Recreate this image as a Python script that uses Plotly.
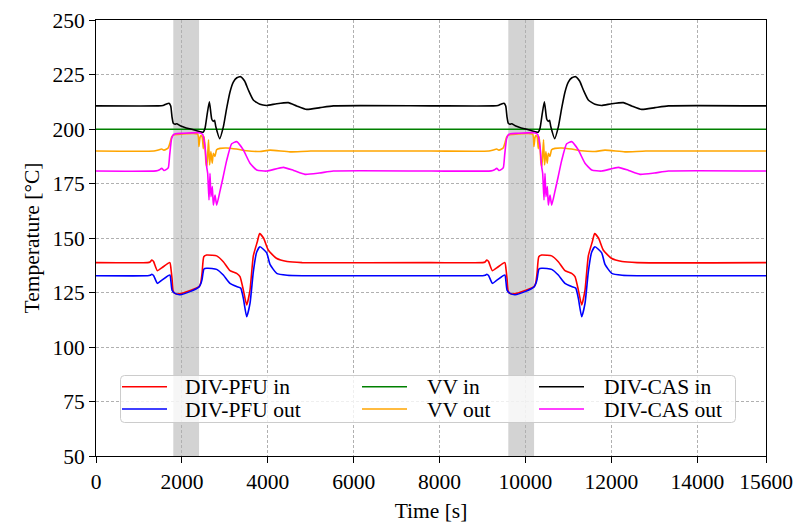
import plotly.graph_objects as go

# ---------------- data (one operating cycle, repeated) ----------------
PERIOD = 7800
T_END = 15600
shade_start = [1800, 9600]
shade_end = [2400, 10200]

x_ticks = [0, 2000, 4000, 6000, 8000, 10000, 12000, 14000, 15600]
y_ticks = [50, 75, 100, 125, 150, 175, 200, 225, 250]

t_pfu_in = [0, 1200, 1260, 1300, 1340, 1430, 1530, 1720, 1745, 1770, 1800, 1870, 2000, 2190, 2400,
            2440, 2470, 2510, 2576, 2700, 2809, 2964, 3120, 3275, 3353, 3431, 3508, 3586, 3663,
            3756, 3810, 3900, 4010, 4200, 4450, 4800, 7800]
v_pfu_in = [138.7, 138.7, 139.0, 139.9, 139.2, 135.0, 136.3, 138.7, 136.0, 131.5, 125.4, 124.3, 124.6,
            125.9, 127.7, 129.5, 134.0, 141.4, 142.2, 142.1, 141.8, 139.1, 135.0, 133.8, 132.3, 126.1,
            119.3, 126.1, 141.8, 148.3, 152.0, 150.0, 144.5, 140.7, 139.2, 138.7, 138.7]

t_pfu_out = [0, 1200, 1260, 1300, 1340, 1430, 1530, 1720, 1745, 1770, 1840, 1956, 2190, 2400, 2440,
             2470, 2514, 2576, 2700, 2809, 2964, 3120, 3275, 3370, 3431, 3508, 3586, 3663, 3740,
             3818, 3974, 4051, 4207, 4450, 4800, 7800]
v_pfu_out = [132.7, 132.7, 132.9, 133.4, 132.8, 129.2, 130.6, 133.0, 130.0, 126.1, 124.6, 124.0, 125.4,
             127.6, 129.0, 131.0, 135.8, 136.1, 136.0, 135.6, 133.0, 129.2, 127.7, 127.0, 122.3, 113.9,
             120.0, 134.5, 143.5, 146.0, 143.2, 137.9, 133.8, 132.9, 132.7, 132.7]

t_vv_in = [0, 7800]
v_vv_in = [199.9, 199.9]

t_vv_out = [0, 1350, 1451, 1529, 1580, 1645, 1684, 1720, 1760, 1800, 1900, 2366, 2397, 2420, 2440,
            2470, 2499, 2520, 2545, 2560, 2582, 2620, 2644, 2675, 2706, 2732, 2770, 2808, 2887,
            3041, 3274, 3507, 3817, 4051, 4517, 5000, 7800]
v_vv_out = [189.9, 189.9, 190.4, 190.8, 190.3, 190.8, 191.4, 193.5, 196.3, 197.2, 197.5, 197.6, 192.0,
            196.0, 197.0, 196.5, 191.0, 196.5, 190.0, 184.3, 182.8, 195.0, 183.5, 189.6, 184.3, 188.9,
            187.4, 190.5, 191.1, 191.3, 190.8, 190.0, 189.7, 190.3, 189.5, 189.9, 189.9]

t_cas_in = [0, 1450, 1560, 1640, 1700, 1740, 1770, 1800, 1840, 1880, 1960, 2100, 2250, 2406, 2500,
            2540, 2590, 2640, 2694, 2732, 2760, 2790, 2880, 2965, 3042, 3120, 3197, 3280, 3369,
            3460, 3547, 3663, 3818, 3974, 4207, 4478, 4672, 4905, 5215, 5526, 7800]
v_cas_in = [210.6, 210.6, 210.8, 211.5, 211.8, 210.5, 205.5, 202.6, 202.2, 202.4, 201.5, 200.5, 199.8,
            198.8, 198.6, 200.5, 207.0, 212.5, 204.6, 203.5, 204.0, 201.0, 195.6, 201.0, 209.5, 217.0,
            221.5, 223.5, 224.0, 222.0, 217.9, 213.3, 211.3, 210.8, 211.6, 212.1, 210.6, 209.0, 209.8,
            210.6, 210.6]

t_cas_out = [0, 1400, 1480, 1530, 1580, 1640, 1684, 1715, 1760, 1800, 1850, 2000, 2400, 2484, 2538,
             2576, 2600, 2631, 2654, 2677, 2708, 2732, 2771, 2810, 2887, 2960, 3042, 3159, 3275,
             3430, 3586, 3741, 3974, 4362, 4600, 4866, 5200, 5526, 7800]
v_cas_out = [180.7, 180.8, 181.3, 182.0, 181.0, 181.5, 182.3, 188.0, 195.5, 197.3, 197.8, 198.0, 198.3,
             197.5, 191.9, 182.7, 179.7, 167.4, 179.7, 169.0, 173.6, 165.1, 169.7, 165.1, 171.5, 178.0,
             185.5, 193.2, 194.2, 190.4, 184.3, 181.2, 180.7, 182.4, 181.0, 179.2, 179.8, 180.7, 180.7]


def two_cycles(t, v):
    tt = list(t) + [ti + PERIOD for ti in t[1:]]
    vv = list(v) + list(v[1:])
    return tt, vv


series = [
    ("DIV-PFU in", t_pfu_in, v_pfu_in, "#ff0000"),
    ("DIV-PFU out", t_pfu_out, v_pfu_out, "#0000ff"),
    ("VV in", t_vv_in, v_vv_in, "#008000"),
    ("VV out", t_vv_out, v_vv_out, "#ffa500"),
    ("DIV-CAS in", t_cas_in, v_cas_in, "#000000"),
    ("DIV-CAS out", t_cas_out, v_cas_out, "#ff00ff"),
]

FONT = "Liberation Serif, Times New Roman, serif"
FS = 21.5

W, H = 795, 523
L, R, T, B = 96, 29, 20, 67
PW, PH = W - L - R, H - T - B


def px(xp):  # page pixel -> paper
    return (xp - L) / PW


def py(yp):
    return (H - B - yp) / PH


fig = go.Figure()
for name, t, v, col in series:
    tt, vv = two_cycles(t, v)
    fig.add_trace(go.Scatter(x=tt, y=vv, mode="lines", name=name, showlegend=False,
                             line=dict(color=col, width=1.6, shape="spline", smoothing=0.5)))

shapes = []
for s0, s1 in zip(shade_start, shade_end):
    shapes.append(dict(type="rect", xref="x", yref="paper", x0=s0, x1=s1, y0=0, y1=1,
                       fillcolor="#d3d3d3", line=dict(width=0), layer="below"))

# legend frame (rounded)
bx0, bx1, by0, by1 = 120.5, 735.5, 375.5, 422.5
rx, ry = 4 / PW, 4 / PH
X0, X1, Y0, Y1 = px(bx0), px(bx1), py(by1), py(by0)
path = (f"M{X0+rx},{Y0} L{X1-rx},{Y0} Q{X1},{Y0} {X1},{Y0+ry} L{X1},{Y1-ry} Q{X1},{Y1} {X1-rx},{Y1} "
        f"L{X0+rx},{Y1} Q{X0},{Y1} {X0},{Y1-ry} L{X0},{Y0+ry} Q{X0},{Y0} {X0+rx},{Y0} Z")
shapes.append(dict(type="path", xref="paper", yref="paper", path=path,
                   fillcolor="rgba(255,255,255,0.8)", line=dict(color="#cccccc", width=1), layer="above"))

annotations = []
cols = [(122, 167, 183), (362, 407, 425), (539, 584, 602)]
rows = [386.7, 409.0]
for i, (name, t, v, col) in enumerate(series):
    c = cols[i // 2]
    r = rows[i % 2]
    shapes.append(dict(type="line", xref="paper", yref="paper", x0=px(c[0]), x1=px(c[1]),
                       y0=py(r), y1=py(r), line=dict(color=col, width=1.6), layer="above"))
    annotations.append(dict(x=px(c[2]), y=py(r + 0.5), xref="paper", yref="paper", text=name,
                            showarrow=False, xanchor="left", yanchor="middle",
                            font=dict(family=FONT, size=FS, color="black")))

axis_common = dict(showline=True, linecolor="black", linewidth=1, mirror=True,
                   ticks="outside", ticklen=6, tickwidth=1, tickcolor="black",
                   showgrid=True, gridcolor="#b0b0b0", gridwidth=0.7, griddash="3px,2px",
                   zeroline=False, automargin=False,
                   tickfont=dict(family=FONT, size=FS, color="black"))

fig.update_layout(
    width=W, height=H,
    margin=dict(l=L, r=R, t=T, b=B),
    paper_bgcolor="white", plot_bgcolor="white",
    font=dict(family=FONT, size=FS, color="black"),
    shapes=shapes, annotations=annotations,
    xaxis=dict(range=[0, T_END], tickmode="array", tickvals=x_ticks,
               ticktext=[str(v) for v in x_ticks],
               title=dict(text="Time [s]", standoff=10, font=dict(family=FONT, size=FS)),
               **axis_common),
    yaxis=dict(range=[50, 250], tickmode="array", tickvals=y_ticks,
               ticktext=[str(v) for v in y_ticks],
               title=dict(text="Temperature [°C]", standoff=6, font=dict(family=FONT, size=FS)),
               **axis_common),
)

fig.write_html(
    "out.html",
    config={"displayModeBar": False},
    post_script="document.body.style.margin='0';document.documentElement.style.overflow='hidden';",
)
